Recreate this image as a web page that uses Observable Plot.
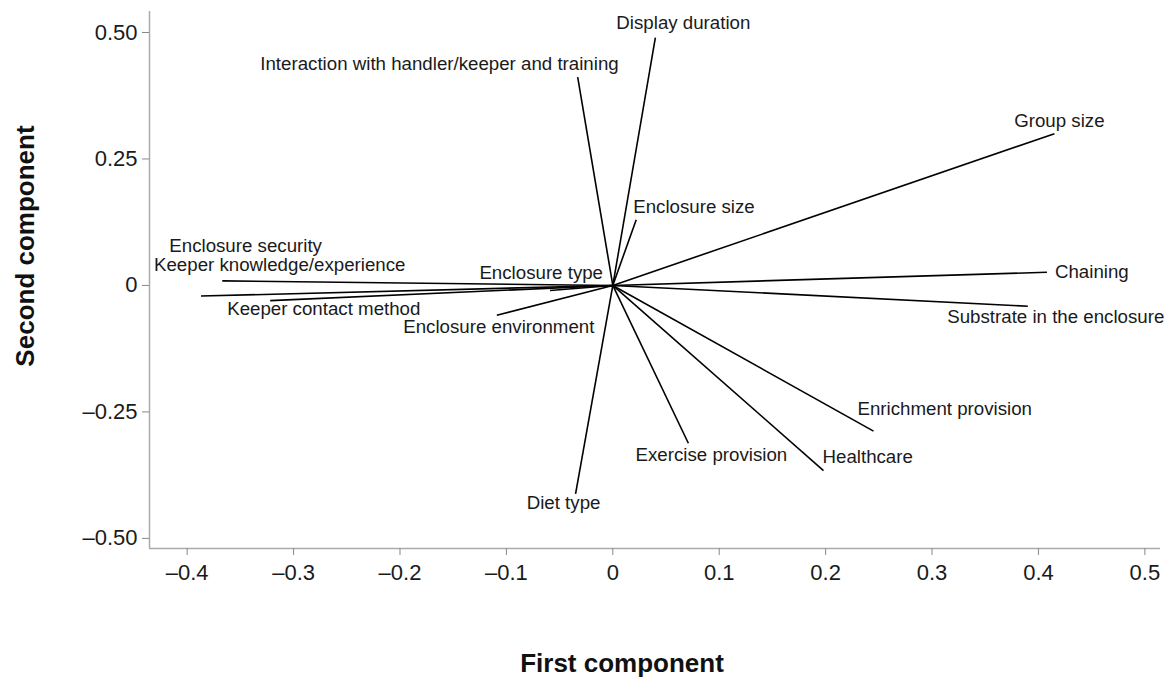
<!DOCTYPE html>
<html>
<head>
<meta charset="utf-8">
<script src="https://cdn.jsdelivr.net/npm/d3@7"></script>
<script src="https://cdn.jsdelivr.net/npm/@observablehq/plot@0.6"></script>
<style>
  html, body { margin: 0; padding: 0; background: #fff; }
  #wrap { position: relative; width: 1168px; height: 677px; font-family: "Liberation Sans", Arial, sans-serif; }
  .title { position: absolute; font-weight: bold; font-size: 26px; color: #111; white-space: nowrap; }
  #xtitle { left: 622px; top: 663px; transform: translate(-50%, -50%); }
  #ytitle { left: 25px; top: 246px; transform: translate(-50%, -50%) rotate(-90deg); }
</style>
</head>
<body>
<div id="wrap">
  <div id="chart"></div>
  <div class="title" id="xtitle">First component</div>
  <div class="title" id="ytitle">Second component</div>
</div>
<script>
// Variable names
const variables = [
  "Display duration",
  "Interaction with handler/keeper and training",
  "Enclosure size",
  "Group size",
  "Chaining",
  "Substrate in the enclosure",
  "Enrichment provision",
  "Healthcare",
  "Exercise provision",
  "Diet type",
  "Enclosure environment",
  "Enclosure type",
  "Keeper contact method",
  "Enclosure security",
  "Keeper knowledge/experience"
];
// Loadings on first component
const firstComponent = [0.040, -0.033, 0.022, 0.415, 0.408, 0.390, 0.245, 0.198, 0.071, -0.035, -0.109, -0.059, -0.322, -0.367, -0.387];
// Loadings on second component
const secondComponent = [0.490, 0.412, 0.130, 0.300, 0.026, -0.041, -0.288, -0.366, -0.312, -0.412, -0.059, -0.010, -0.030, 0.009, -0.021];
// Tick values
const xTicks = [-0.4, -0.3, -0.2, -0.1, 0, 0.1, 0.2, 0.3, 0.4, 0.5];
const yTicks = [-0.5, -0.25, 0, 0.25, 0.5];
// Axis extents
const xDomain = [-0.4354, 0.5147];
const yDomain = [-0.52, 0.5415];

const rows = variables.map((name, i) => ({name, pc1: firstComponent[i], pc2: secondComponent[i]}));

// Label placement (styling only: anchor and pixel offsets from vector tip)
const labelPlacement = {
  "Display duration": ["middle", 28, -15],
  "Interaction with handler/keeper and training": ["end", 41, -13],
  "Enclosure size": ["start", -3, -13],
  "Group size": ["middle", 5, -13],
  "Chaining": ["start", 8, 0],
  "Substrate in the enclosure": ["middle", 28, 11],
  "Enrichment provision": ["start", -16, -22],
  "Healthcare": ["start", -1, -14],
  "Exercise provision": ["middle", 23, 12],
  "Diet type": ["middle", -12, 9],
  "Enclosure environment": ["middle", 2, 12],
  "Enclosure type": ["end", 53, -17],
  "Keeper contact method": ["start", -43, 8],
  "Enclosure security": ["start", -53, -35],
  "Keeper knowledge/experience": ["start", -47, -31]
};

const fmtY = d => d === 0 ? "0" : (d < 0 ? "\u2013" : "") + Math.abs(d).toFixed(2);
const fmtX = d => d === 0 ? "0" : (d < 0 ? "\u2013" : "") + Math.abs(d).toFixed(1);

const labelMarks = rows.map(r => {
  const [anchor, dx, dy] = labelPlacement[r.name];
  return Plot.text([r], {x: "pc1", y: "pc2", text: "name", textAnchor: anchor, dx, dy,
    fontSize: 18.7, fill: "#1a1a1a"});
});

const chart = Plot.plot({
  width: 1168,
  height: 677,
  marginTop: 11,
  marginLeft: 149,
  marginRight: 8,
  marginBottom: 129,
  style: {fontFamily: "'Liberation Sans', Arial, sans-serif", background: "#fff"},
  x: {domain: xDomain},
  y: {domain: yDomain},
  marks: [
    Plot.ruleX([xDomain[0]], {stroke: "#aaa", strokeWidth: 1.5}),
    Plot.ruleY([yDomain[0]], {stroke: "#aaa", strokeWidth: 1.5}),
    Plot.axisX({ticks: xTicks, tickFormat: fmtX, tickSize: 7, tickPadding: 9, fontSize: 22,
      stroke: "#888", color: "#1a1a1a", label: null}),
    Plot.axisY({ticks: yTicks, tickFormat: fmtY, tickSize: 7, tickPadding: 5, fontSize: 22,
      stroke: "#888", color: "#1a1a1a", label: null}),
    Plot.link(rows, {x1: () => 0, y1: () => 0, x2: "pc1", y2: "pc2", stroke: "#000", strokeWidth: 1.6}),
    ...labelMarks
  ]
});
document.getElementById("chart").appendChild(chart);
</script>
</body>
</html>
